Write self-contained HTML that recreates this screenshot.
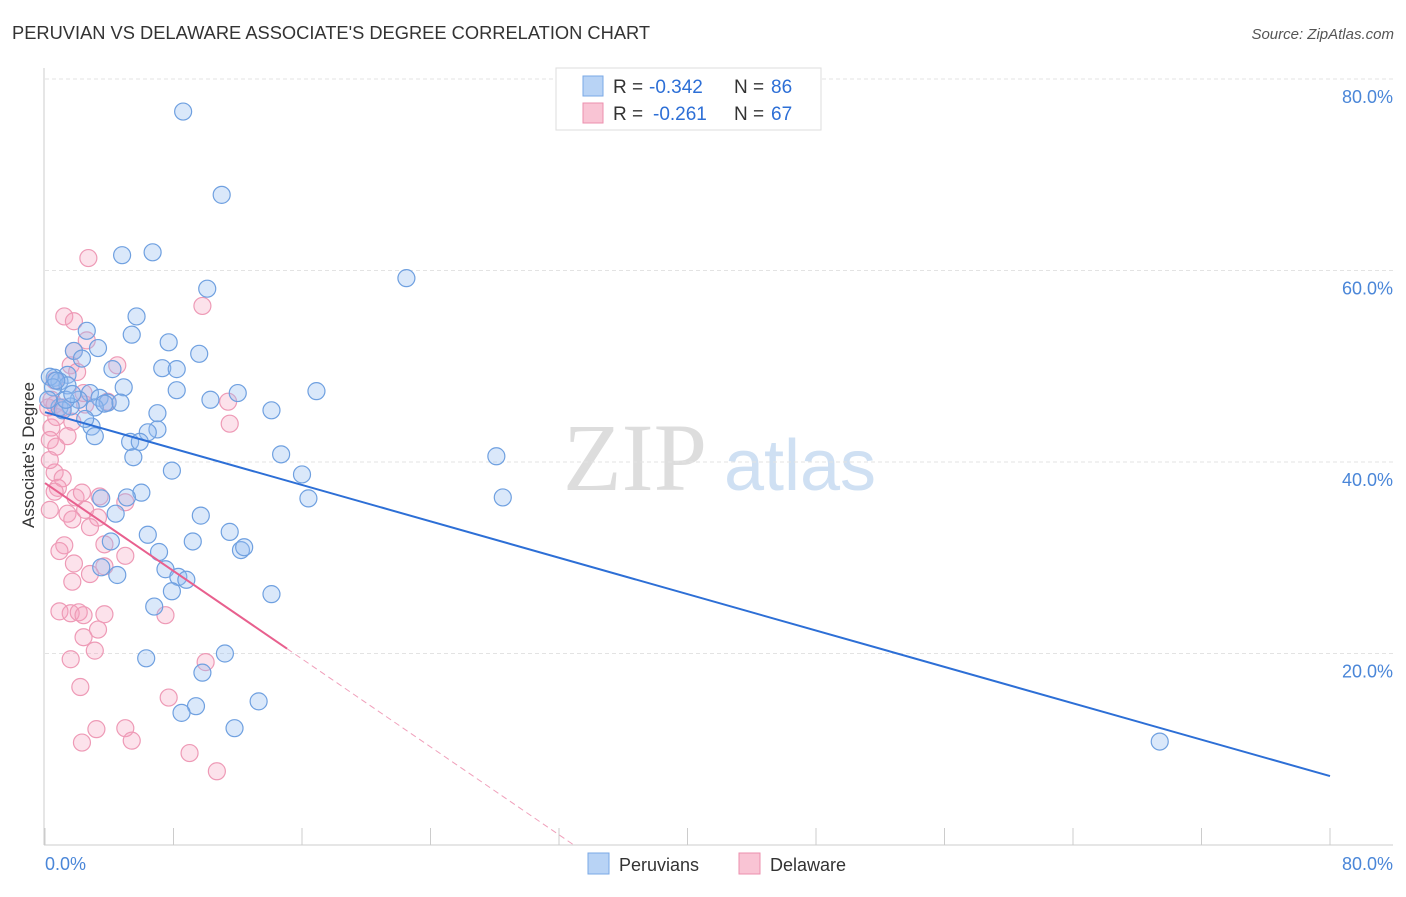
<!DOCTYPE html>
<html><head><meta charset="utf-8"><style>
body{margin:0;background:#fff;font-family:"Liberation Sans",sans-serif}
</style></head><body>
<svg id="c" width="1406" height="892" viewBox="0 0 1406 892">
<text x="12" y="39" font-size="18.3" fill="#333">PERUVIAN VS DELAWARE ASSOCIATE'S DEGREE CORRELATION CHART</text>
<text x="1394" y="39" font-size="15" fill="#555" font-style="italic" text-anchor="end">Source: ZipAtlas.com</text>
<text x="635" y="490" font-size="96" fill="#ddd" font-family="Liberation Serif,serif" text-anchor="middle">ZIP</text>
<text x="800" y="490" font-size="72" fill="#cfe0f3" text-anchor="middle">atlas</text>
<g id="grid"></g><g id="pts"></g><g id="lines"></g>
<text transform="translate(34,455) rotate(-90)" font-size="17" fill="#333" text-anchor="middle">Associate's Degree</text>
<g>
<rect x="556" y="68" width="265" height="62" fill="#fff" stroke="#ddd"/>
<rect x="583" y="76" width="20" height="20" fill="#b8d3f5" stroke="#7aa8e6"/>
<rect x="583" y="103" width="20" height="20" fill="#f9c4d4" stroke="#ec8fae"/>
<text x="613" y="93" font-size="19" fill="#333">R =</text>
<text x="649" y="93" font-size="19" fill="#2d6fd6">-0.342</text>
<text x="734" y="93" font-size="19" fill="#333">N =</text>
<text x="771" y="93" font-size="19" fill="#2d6fd6">86</text>
<text x="613" y="120" font-size="19" fill="#333">R =</text>
<text x="653" y="120" font-size="19" fill="#2d6fd6">-0.261</text>
<text x="734" y="120" font-size="19" fill="#333">N =</text>
<text x="771" y="120" font-size="19" fill="#2d6fd6">67</text>
</g>
<g>
<rect x="588" y="853" width="21" height="21" fill="#b8d3f5" stroke="#7aa8e6"/>
<text x="619" y="871" font-size="18" fill="#333">Peruvians</text>
<rect x="739" y="853" width="21" height="21" fill="#f9c4d4" stroke="#ec8fae"/>
<text x="770" y="871" font-size="18" fill="#333">Delaware</text>
</g>
</svg>
<script>
const yTicks=[20,40,60,80];
const xTickLabels=["0.0%","80.0%"];
const blueX=[8.6,11,4.8,6.7,22.5,10.1,5.7,2.6,5.4,7.7,3.3,1.8,9.6,2.3,7.3,4.2,8.2,1.4,0.6,0.9,1.4,4.9,2.8,12,16.9,8.2,3.4,10.3,3.9,2.1,3.1,0.9,1.6,7,14.1,2.9,3.1,7,6.4,5.3,5.9,5.5,14.7,28.1,7.9,16,6,5.1,3.5,16.4,28.5,4.4,9.7,11.5,6.4,4.1,9.2,7.1,12.2,12.4,3.5,7.5,4.5,8.3,8.8,7.9,14.1,6.8,11.2,6.3,9.8,13.3,9.4,8.5,11.8,69.4,0.3,0.5,0.7,1.1,0.2,1.3,3.7,1.7,2.5,4.7];
const blueY=[76.6,67.9,61.6,61.9,59.2,58.1,55.2,53.7,53.3,52.5,51.9,51.6,51.3,50.8,49.8,49.7,49.7,49.1,48.8,48.4,48,47.8,47.2,47.2,47.4,47.5,46.7,46.5,46.2,46.5,45.7,45.7,45.8,45.1,45.4,43.7,42.7,43.4,43.1,42.1,42.1,40.5,40.8,40.6,39.1,38.7,36.8,36.3,36.2,36.2,36.3,34.6,34.4,32.7,32.4,31.7,31.7,30.6,30.8,31.1,29,28.8,28.2,28,27.7,26.5,26.2,24.9,20,19.5,18,15,14.5,13.8,12.2,10.8,48.9,47.8,48.5,45.4,46.5,46.5,46.1,47.1,44.5,46.2];
const pinkX=[2.7,9.8,1.2,1.8,2.6,1.8,4.5,1.6,2,3.9,11.4,0.6,1.1,2.5,1.7,11.5,0.4,1.4,0.3,0.7,0.6,1.1,0.8,0.6,1.9,3.4,2.3,5,2.5,1.4,3.3,1.7,2.8,0.3,1.2,0.9,3.7,5,1.8,3.7,2.8,1.7,0.9,1.6,2.1,2.4,3.7,3.3,2.4,3.1,1.6,7.5,10,2.2,7.7,5,3.2,2.3,5.4,9,10.7,0.3,0.4,0.7,0.2,0.6,2.4];
const pinkY=[61.3,56.3,55.2,54.7,52.7,51.6,50.1,50.1,49.4,46.3,46.3,46,45.7,46,44.2,44,43.6,42.7,42.3,41.6,38.9,38.3,37.3,36.9,36.3,36.4,36.8,35.8,35,34.6,34.2,34,33.2,35,31.3,30.7,31.4,30.2,29.4,29.1,28.3,27.5,24.4,24.2,24.3,24,24.1,22.5,21.7,20.3,19.4,24,19.1,16.5,15.4,12.2,12.1,10.7,10.9,9.6,7.7,40.2,46.5,44.7,45.7,48.5,47.2];
const blueTrend=[45.2,7.2];
const pinkTrend=[37.8,20.5,15.07];
const X=v=>45+v*1285/80, Y=v=>845-v*766/80;
const NS='http://www.w3.org/2000/svg';
function mk(tag,attrs,parent){const e=document.createElementNS(NS,tag);for(const k in attrs)e.setAttribute(k,attrs[k]);parent.appendChild(e);return e;}
const grid=document.getElementById('grid');
for(const t of yTicks){
 const l=mk('line',{x1:45,x2:1393,y1:Y(t),y2:Y(t),stroke:'#e3e3e3','stroke-dasharray':'4,3'},grid);
 
 
 const tx=mk('text',{x:1393,y:Y(t)+24,'font-size':18,fill:'#4a86d8','text-anchor':'end'},grid);
 tx.textContent=t.toFixed(1)+'%';
 
 
}
mk('line',{x1:44,x2:44,y1:68,y2:845,stroke:'#ccc'},grid);
mk('line',{x1:44,x2:1393,y1:845,y2:845,stroke:'#ccc'},grid);
for(let i=0;i<=10;i++){mk('line',{x1:X(i*8),x2:X(i*8),y1:828,y2:845,stroke:'#ccc'},grid);}
const xl0=mk('text',{x:45,y:870,'font-size':18,fill:'#4a86d8'},grid);xl0.textContent=xTickLabels[0];


const xl1=mk('text',{x:1393,y:870,'font-size':18,fill:'#4a86d8','text-anchor':'end'},grid);xl1.textContent=xTickLabels[1];


const pts=document.getElementById('pts');
pinkX.forEach((v,i)=>{const c=mk('circle',{cx:X(v),cy:Y(pinkY[i]),r:8.5,fill:'rgba(244,160,190,0.3)',stroke:'#ee9ab6','stroke-width':1.2},pts);
 
 });
blueX.forEach((v,i)=>{const c=mk('circle',{cx:X(v),cy:Y(blueY[i]),r:8.5,fill:'rgba(150,190,240,0.35)',stroke:'#6fa0e0','stroke-width':1.2},pts);
 
 });
const lines=document.getElementById('lines');
const bl=mk('line',{x1:X(0),y1:Y(blueTrend[0]),x2:X(80),y2:Y(blueTrend[1]),stroke:'#2d6fd6','stroke-width':2},lines);


const slope=(pinkTrend[1]-pinkTrend[0])/pinkTrend[2];
const xz=-pinkTrend[0]/slope;
const pl=mk('line',{x1:X(0),y1:Y(pinkTrend[0]),x2:X(pinkTrend[2]),y2:Y(pinkTrend[1]),stroke:'#e8608e','stroke-width':2},lines);


const pd=mk('line',{x1:X(pinkTrend[2]),y1:Y(pinkTrend[1]),x2:X(xz),y2:Y(0),stroke:'#f0a0bb','stroke-width':1,'stroke-dasharray':'6,4'},lines);


</script>
</body></html>
